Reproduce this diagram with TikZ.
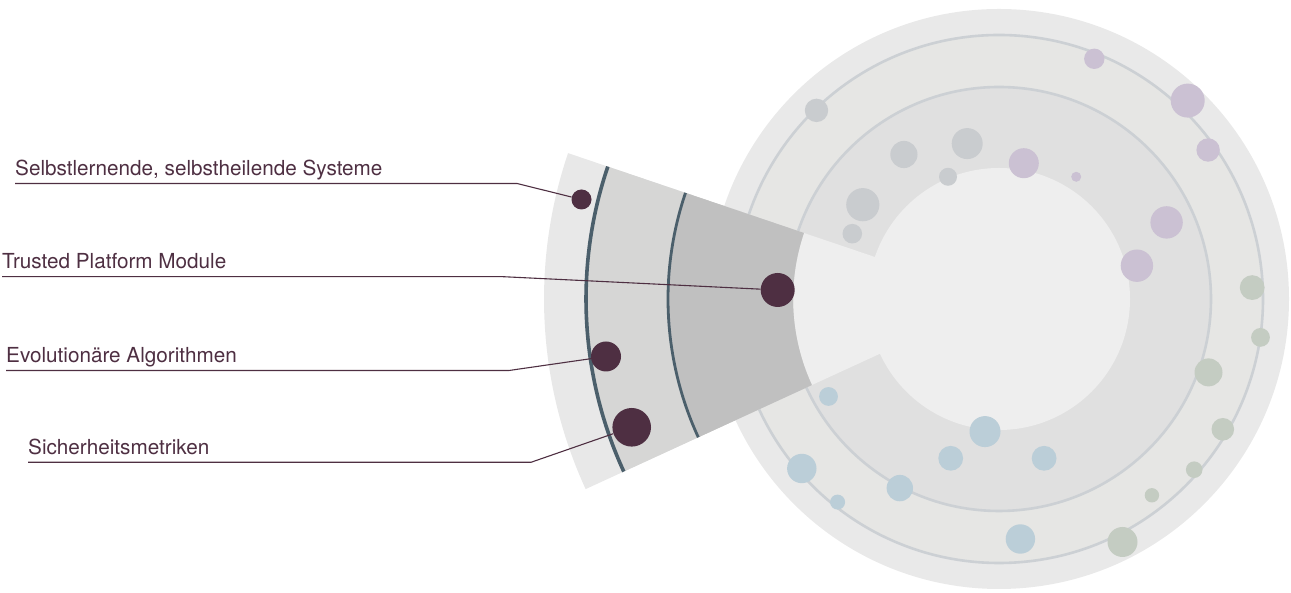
\documentclass[tikz,border=0pt]{standalone}
\usepackage{fontspec}
\setmainfont{TeX Gyre Heros}

% Colours
\definecolor{topic}{HTML}{4E2F42}
\definecolor{outerc}{HTML}{E9E9E9}
\definecolor{ringA}{HTML}{E6E6E4}
\definecolor{ringB}{HTML}{E0E0E0}
\definecolor{innerc}{HTML}{EEEEEE}
\definecolor{ringline}{HTML}{CCD0D4}
\definecolor{sectA}{HTML}{E8E8E8}
\definecolor{sectB}{HTML}{D6D6D5}
\definecolor{sectC}{HTML}{C0C0C0}
\definecolor{bandline}{HTML}{4B5F6B}
\definecolor{bgray}{HTML}{C9CCCF}
\definecolor{bpurple}{HTML}{CBC1D3}
\definecolor{bgreen}{HTML}{C4CCC2}
\definecolor{bblue}{HTML}{BBCED8}

\tikzset{
  topiclabel/.style={font=\fontsize{20.7}{24}\selectfont, text=topic, anchor=south west, inner sep=0pt, text depth=8pt},
  topicdot/.style={circle, fill=topic, inner sep=0pt, minimum size=#1},
  leader/.style={draw=topic, line width=1.1pt},
  ring/.style={draw=ringline, line width=2.6pt}
}

\begin{document}
\begin{tikzpicture}[x=1pt, y=1pt]
    \useasboundingbox (0,0) rectangle (1291,593);
    % Centre of the radar
    \coordinate (C) at (999,294);

    % Draw the rings
    \fill[outerc] (C) circle (290);
    \draw[ring, fill=ringA] (C) circle (264);
    \draw[ring, fill=ringB] (C) circle (212);
    \fill[innerc] (C) circle (131);

    \begin{scope}[shift={(C)}]
      % Cut the wedge out of the inner ring
      \fill[innerc] (0,0) -- (161.3:210) arc (161.3:204.7:210) -- cycle;
    \end{scope}

    % Bubbles on the rings
    \foreach \x/\y/\r in {816.5/482.6/11.7, 903.9/438.5/13.6, 967.2/449.4/15.5, 948/416.2/9, 862.8/388.3/16.6, 852.3/359.3/9.8}
      \fill[bgray] (\x,\y) circle (\r);
    \foreach \x/\y/\r in {1094.3/534.2/10.2, 1187.7/492.4/17, 1208.1/443/11.7, 1023.8/429.8/15, 1076.2/416.2/5, 1166.6/370.6/16.2, 1136.9/327.3/16.2}
      \fill[bpurple] (\x,\y) circle (\r);
    \foreach \x/\y/\r in {1252.2/305.4/12.4, 1260.5/255.6/9.4, 1208.5/220.6/14, 1222.8/163.7/11.3, 1194.2/123.3/8.3, 1151.9/97.7/7.2, 1122.5/51/15}
      \fill[bgreen] (\x,\y) circle (\r);
    \foreach \x/\y/\r in {828.5/196.5/9.4, 801.8/124.5/14.7, 837.6/90.9/7.5, 899.8/104.9/13.2, 950.7/134.7/12.4, 985/161.4/15.5, 1044.1/134.7/12.4, 1020.4/54/14.7}
      \fill[bblue] (\x,\y) circle (\r);

    \begin{scope}[shift={(C)}]
      % Draw the highlighted sector, band by band
      \foreach \ro/\col in {455/sectA, 413/sectB, 331/sectC}
        \fill[\col] (161.3:\ro) arc (161.3:204.7:\ro) -- (204.7:206) arc (204.7:161.3:206) -- cycle;
      % Band borders
      \draw[bandline, line width=3.6pt] (161.3:413) arc (161.3:204.7:413);
      \draw[bandline, line width=2.8pt] (161.3:331) arc (161.3:204.7:331);
    \end{scope}

    % Topics in the sector
    \node[topicdot=20pt] (selbstdot) at (581.5,393.5) {};
    \node[topicdot=34pt] (tpmdot) at (777.7,303) {};
    \node[topicdot=30pt] (evoldot) at (606,236.5) {};
    \node[topicdot=38.6pt] (metrikdot) at (631.7,165.7) {};

    % Labels
    \node[topiclabel] (selbst) at (15,409.5) {Selbstlernende, selbstheilende Systeme};
    \node[topiclabel] (tpm) at (2,316.3) {Trusted Platform Module};
    \node[topiclabel] (evol) at (6,222.5) {Evolutionäre Algorithmen};
    \node[topiclabel] (metrik) at (28,130.7) {Sicherheitsmetriken};

    % Leader lines
    \coordinate (selbstknee) at (517,409.5);
    \coordinate (tpmknee) at (503,316.3);
    \coordinate (evolknee) at (509,222.5);
    \coordinate (metrikknee) at (531,130.7);
    \draw[leader] (selbst.south west) -- (selbstknee) -- (selbstdot);
    \draw[leader] (tpm.south west) -- (tpmknee) -- (tpmdot);
    \draw[leader] (evol.south west) -- (evolknee) -- (evoldot);
    \draw[leader] (metrik.south west) -- (metrikknee) -- (metrikdot);
\end{tikzpicture}
\end{document}
